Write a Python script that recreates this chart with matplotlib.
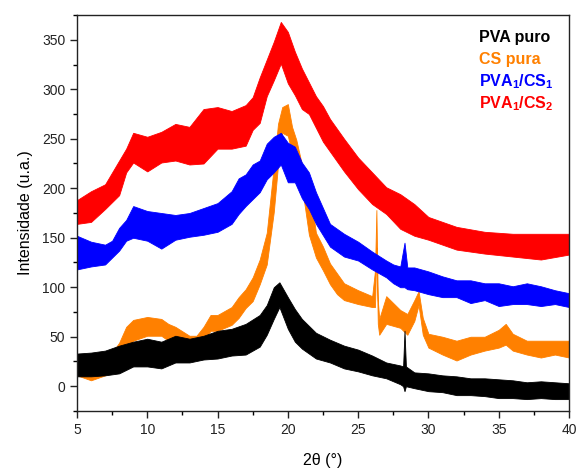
import matplotlib
matplotlib.use("Agg")
import matplotlib.pyplot as plt
from matplotlib.ticker import MultipleLocator

plt.rcParams['font.family'] = ['Liberation Sans', 'DejaVu Sans']
plt.rcParams['mathtext.fontset'] = 'custom'
plt.rcParams['mathtext.bf'] = 'Liberation Sans:bold'
plt.rcParams['mathtext.rm'] = 'Liberation Sans'

# envelopes (upper / lower edge of the noisy trace)
pva_x = [5, 6, 7, 8, 9, 10, 11, 12, 13, 14, 15, 16, 17, 18, 18.5, 19, 19.4, 20,
         20.5, 21, 22, 23, 24, 25, 26, 27, 28, 28.2, 28.3, 28.4, 29, 30, 31,
         32, 33, 34, 35, 36, 37, 38, 39, 40]
pva_hi = [33, 34, 36, 41, 45, 48, 45, 51, 48, 51, 56, 58, 63, 72, 82, 100, 105,
          90, 78, 68, 54, 47, 41, 37, 31, 24, 21, 20, 56, 20, 14, 13, 11, 10,
          8, 8, 7, 6, 4, 5, 4, 3]
pva_lo = [10, 10, 11, 13, 20, 20, 18, 24, 24, 27, 28, 31, 32, 40, 52, 68, 80, 58,
          45, 38, 28, 24, 18, 15, 11, 8, 2, 0, -5, 0, -2, -5, -6, -9, -9,
          -10, -12, -12, -13, -12, -13, -13]

cs_x = [5, 6, 7, 7.5, 8, 8.5, 9, 10, 11, 11.5, 12, 13, 13.5, 14, 14.5, 15, 16,
        16.5, 17, 17.5, 18, 18.5, 19, 19.3, 19.6, 20, 20.3, 20.6, 21, 21.5, 22,
        22.5, 23, 23.5, 24, 25, 26, 26.2, 26.3, 26.4, 26.5, 27, 28, 28.5, 29,
        29.3, 29.6, 30, 31, 32, 33, 34, 35, 35.5, 36, 37, 38, 39, 40]
cs_hi = [25, 18, 25, 34, 44, 60, 67, 70, 68, 63, 60, 51, 51, 60, 72, 72, 80, 90,
         98, 110, 128, 155, 222, 265, 282, 285, 262, 249, 224, 204, 155, 141,
         124, 114, 104, 97, 91, 117, 178, 87, 68, 91, 77, 73, 87, 96, 69, 53,
         50, 46, 50, 50, 57, 63, 53, 46, 46, 46, 46]
cs_lo = [11, 6, 11, 18, 28, 39, 46, 51, 51, 46, 42, 39, 39, 46, 56, 56, 62, 69, 79,
         86, 103, 123, 176, 223, 256, 253, 235, 222, 202, 153, 130, 117, 103,
         93, 87, 83, 80, 80, 140, 63, 52, 63, 59, 52, 66, 82, 52, 39, 32, 26,
         32, 36, 39, 42, 36, 32, 29, 32, 29]

m1_x = [5, 6, 7, 7.5, 8, 8.5, 9, 10, 11, 12, 13, 14, 15, 16, 16.5, 17, 17.5, 18,
        18.5, 19, 19.5, 20, 20.5, 21, 21.5, 22, 23, 24, 25, 26, 27, 27.5, 28,
        28.3, 28.5, 29, 30, 31, 32, 33, 34, 35, 36, 37, 38, 39, 40]
m1_hi = [152, 146, 143, 147, 160, 168, 182, 177, 175, 173, 175, 180, 185, 197,
         210, 214, 224, 228, 245, 252, 256, 246, 242, 226, 216, 196, 164, 154,
         146, 136, 127, 123, 121, 145, 120, 120, 116, 111, 107, 107, 104, 104,
         101, 104, 101, 97, 94]
m1_lo = [118, 121, 123, 130, 137, 147, 150, 147, 139, 148, 151, 153, 156, 164,
         174, 182, 189, 196, 209, 216, 224, 206, 206, 190, 179, 164, 141, 131,
         127, 118, 110, 104, 100, 100, 98, 97, 93, 90, 90, 84, 87, 81, 83, 83,
         81, 83, 80]

m2_x = [5, 6, 7, 8, 8.5, 9, 10, 11, 12, 13, 14, 15, 16, 17, 17.5, 18, 18.5, 19,
        19.5, 20, 20.5, 21, 21.5, 22, 22.5, 23, 24, 25, 26, 27, 28, 29, 30, 32,
        34, 36, 38, 40]
m2_hi = [188, 197, 204, 228, 240, 256, 252, 257, 265, 262, 280, 282, 278, 284,
         292, 312, 330, 348, 368, 358, 338, 321, 307, 293, 283, 270, 250, 231,
         216, 201, 194, 184, 171, 161, 156, 154, 154, 154]
m2_lo = [164, 166, 179, 193, 216, 226, 217, 226, 228, 224, 225, 240, 240, 243,
         259, 266, 293, 309, 326, 306, 294, 280, 275, 261, 247, 237, 217, 199,
         184, 174, 159, 152, 148, 138, 134, 131, 128, 133]

labels = ['PVA puro', 'CS pura', r'$\mathbf{PVA_1/CS_1}$', r'$\mathbf{PVA_1/CS_2}$']
colors = ['black', '#FF8000', '#0000FF', '#FF0000']


def main():
    fig = plt.figure(figsize=(5.77, 4.69), dpi=100)
    ax = fig.add_axes([0.1334, 0.1237, 0.8527, 0.8443])

    # orange under black, then blue and red on top
    ax.fill_between(cs_x, cs_lo, cs_hi, color=colors[1], lw=0.6)
    ax.fill_between(pva_x, pva_lo, pva_hi, color=colors[0], lw=0.6)
    ax.fill_between(m1_x, m1_lo, m1_hi, color=colors[2], lw=0.6)
    ax.fill_between(m2_x, m2_lo, m2_hi, color=colors[3], lw=0.6)

    ax.set_xlim(5, 40)
    ax.set_ylim(-25, 375)
    ax.xaxis.set_major_locator(MultipleLocator(5))
    ax.xaxis.set_minor_locator(MultipleLocator(2.5))
    ax.yaxis.set_major_locator(MultipleLocator(50))
    ax.yaxis.set_minor_locator(MultipleLocator(25))
    ax.tick_params(which='major', direction='out', length=5, width=1,
                   labelsize=10, colors='#222222')
    ax.tick_params(which='minor', direction='out', length=3, width=1)
    for s in ax.spines.values():
        s.set_linewidth(1)
        s.set_color('#222222')

    ax.set_xlabel('2θ (°)', fontsize=11.5, labelpad=12)
    ax.set_ylabel('Intensidade (u.a.)', fontsize=11.5, labelpad=6)

    ys = [0.944, 0.887, 0.832, 0.776]
    for lab, c, y in zip(labels, colors, ys):
        ax.text(0.817, y, lab, transform=ax.transAxes, color=c,
                fontsize=11.5, fontweight='bold', va='center', ha='left')

    fig.savefig('out.png', dpi=100)


if __name__ == "__main__":
    main()
